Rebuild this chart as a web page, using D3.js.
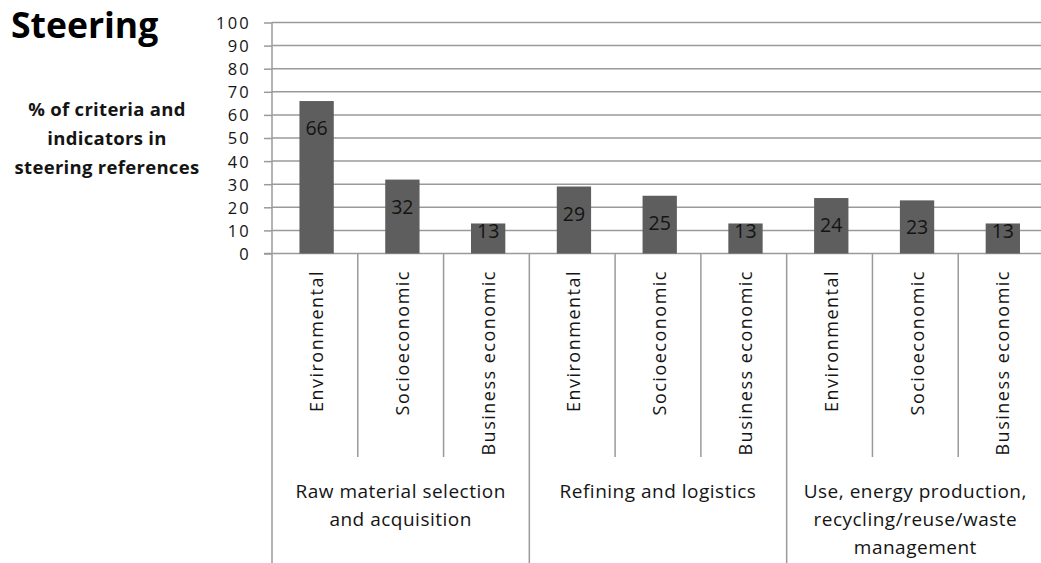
<!DOCTYPE html>
<html><head><meta charset="utf-8">
<script src="https://cdn.jsdelivr.net/npm/d3@7"></script>
<style>body{margin:0;background:#fff;} svg{display:block;font-family:"Open Sans",sans-serif;}</style>
</head><body>
<svg id="c" width="1041" height="563"></svg>
<script>
const groups = [
  ["Raw material selection", "and acquisition"],
  ["Refining and  logistics"],
  ["Use, energy production,", "recycling/reuse/waste", "management"]
];
const categories = ["Environmental","Socioeconomic","Business economic"];
const values = [66, 32, 13, 29, 25, 13, 24, 23, 13];
const yTicks = [0,10,20,30,40,50,60,70,80,90,100];
const title = "Steering";
const yLabel = ["% of criteria and", "indicators in", "steering references"];

const rows = [];
groups.forEach((g,gi)=>categories.forEach((c,ci)=>rows.push({key:gi+"-"+ci, group:gi, cat:c, value:values[gi*3+ci]})));

const svg = d3.select("#c");
const x0 = 272, x1 = 1044, yTop = 22.5, yBot = 253.5;
const x = d3.scaleBand().domain(rows.map(r=>r.key)).range([x0,x1]).paddingInner(0).paddingOuter(0);
const y = d3.scaleLinear().domain([0,100]).range([yBot,yTop]);
const grid = "#9a9a9a";
const ink = "#141414";

// gridlines
svg.append("g").selectAll("line").data(yTicks.filter(t=>t>0)).join("line")
  .attr("x1",x0).attr("x2",1041).attr("y1",d=>y(d)).attr("y2",d=>y(d))
  .attr("stroke",grid).attr("stroke-width",1.5);

// y axis
const ya = svg.append("g").attr("transform",`translate(${x0},0)`)
  .call(d3.axisLeft(y).tickValues(yTicks).tickSize(8).tickPadding(13));
ya.select(".domain").attr("stroke",grid).attr("stroke-width",1.5).attr("d",`M0,${yTop}V563`);
ya.selectAll(".tick line").attr("stroke",grid).attr("stroke-width",1.5);
ya.selectAll(".tick text").attr("font-size",16.5).attr("letter-spacing",2.2).attr("fill",ink).attr("font-family","Open Sans").attr("dy","0.36em");

// baseline
svg.append("line").attr("x1",x0-8).attr("x2",1041).attr("y1",yBot).attr("y2",yBot).attr("stroke",grid).attr("stroke-width",1.5);

// bars
svg.append("g").selectAll("rect").data(rows).join("rect")
  .attr("x",d=>x(d.key)+x.bandwidth()*0.32).attr("width",x.bandwidth()*0.4)
  .attr("y",d=>y(d.value)).attr("height",d=>yBot-y(d.value))
  .attr("fill","#5e5e5e");

// data labels
svg.append("g").selectAll("text").data(rows).join("text")
  .attr("x",d=>x(d.key)+x.bandwidth()*0.52)
  .attr("y",d=>Math.min(y(d.value)+27, yBot-23))
  .attr("dy","0.36em").attr("text-anchor","middle").attr("font-size",19.5).attr("fill",ink)
  .text(d=>d.value);

// category separators
svg.append("g").selectAll("line").data(rows.slice(1)).join("line")
  .attr("x1",d=>x(d.key)).attr("x2",d=>x(d.key))
  .attr("y1",yBot).attr("y2",d=> (rows.indexOf(d)%3===0)?563:457)
  .attr("stroke",grid).attr("stroke-width",1.5);

// category labels
svg.append("g").selectAll("text").data(rows).join("text")
  .attr("transform",d=>`translate(${x(d.key)+x.bandwidth()*0.52+6.5},270) rotate(-90)`)
  .attr("text-anchor","end").attr("font-size",18).attr("fill",ink).attr("letter-spacing",1.5)
  .text(d=>d.cat);

// group labels
const gw = x.bandwidth()*3;
groups.forEach((g,gi)=>{
  const cx = x0 + gw*gi + gw/2;
  svg.append("text").attr("text-anchor","middle").attr("font-size",19).attr("fill",ink).attr("letter-spacing",0.5)
    .selectAll("tspan").data(g).join("tspan")
    .attr("x",cx).attr("y",(d,i)=>498+i*28).text(d=>d);
});

// title
svg.append("text").attr("x",11).attr("y",38).attr("font-size",35.5).attr("font-weight","bold").attr("fill","#000").text(title);
svg.append("text").attr("text-anchor","middle").attr("font-size",18.5).attr("font-weight","bold").attr("fill",ink).attr("letter-spacing",0.3)
  .selectAll("tspan").data(yLabel).join("tspan").attr("x",107).attr("y",(d,i)=>116+i*29).text(d=>d);
</script>
</body></html>
